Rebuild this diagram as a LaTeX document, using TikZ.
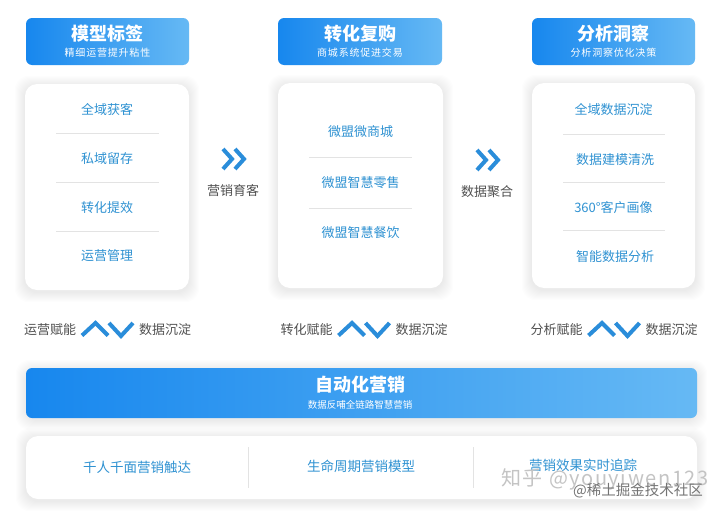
\documentclass[tikz,border=0pt]{standalone}
\usepackage{fontspec}
\setmainfont{Noto Sans CJK SC}
\usetikzlibrary{backgrounds}
\definecolor{itemblue}{HTML}{2F92D2}
\definecolor{hdrL}{HTML}{1787EE}
\definecolor{hdrR}{HTML}{66B9F4}
\definecolor{labgray}{HTML}{505050}
\definecolor{sepgray}{HTML}{E3E3E3}
\definecolor{chevblue}{HTML}{2A8DDA}
\definecolor{wmlight}{HTML}{C4C4C4}
\definecolor{wmdark}{HTML}{747474}
\tikzset{
  hdr/.style={rounded corners=6pt, left color=hdrL, right color=hdrR, draw=none, inner sep=0pt},
  card/.style={rounded corners=12pt, fill=white, draw=none, inner sep=0pt},
  htitle/.style={text=white, font=\fontsize{18}{18}\selectfont\bfseries, inner sep=0pt},
  hsub/.style={text=white, font=\fontsize{10}{10}\selectfont\addfontfeature{LetterSpace=8}, inner sep=0pt},
  item/.style={text=itemblue, font=\fontsize{13}{13}\selectfont, inner sep=0pt},
  lab/.style={text=labgray, font=\fontsize{13}{13}\selectfont, inner sep=0pt},
  sepline/.style={draw=sepgray, line width=1pt},
  chevline/.style={draw=chevblue, line width=4pt, line join=miter},
  avline/.style={draw=chevblue, line width=4pt, line join=miter},
  chevs/.pic={
    \draw[chevline] (-12,-10) -- (-3,0) -- (-12,10);
    \draw[chevline] (0,-10) -- (9,0) -- (0,10);
  },
  avicon/.pic={
    \draw[avline] (-25.5,6) -- (-12,-6.5) -- (0.5,6);
    \draw[avline] (1.5,-6.5) -- (13.5,6.5) -- (25.5,-6.5);
  },
}
\newcommand{\softshadow}[1]{%
  \foreach \i in {1,...,10}{%
    \fill[black, opacity=0.008, rounded corners=14pt]
      ([shift={(-\i,-\i+2)}]#1.north west) rectangle ([shift={(\i,\i+2)}]#1.south east);
  }%
}
\begin{document}
\begin{tikzpicture}[x=1pt,y=-1pt]
\useasboundingbox (0,0) rectangle (720,514);

% ---------- headers ----------
\node[hdr, minimum width=163pt, minimum height=47pt] (h1) at (107.5,41.5) {};
\node[hdr, minimum width=164pt, minimum height=47pt] (h2) at (360,41.5) {};
\node[hdr, minimum width=163pt, minimum height=47pt] (h3) at (613.5,41.5) {};
\node[htitle] (h1t) at (107.5,34) {模型标签};
\node[hsub]   (h1s) at (107.5,53) {精细运营提升粘性};
\node[htitle] (h2t) at (360,34) {转化复购};
\node[hsub]   (h2s) at (360,53) {商城系统促进交易};
\node[htitle] (h3t) at (613.5,34) {分析洞察};
\node[hsub]   (h3s) at (613.5,53) {分析洞察优化决策};

% ---------- cards ----------
\node[card, minimum width=164pt, minimum height=206pt] (c1) at (107,187) {};
\node[card, minimum width=165pt, minimum height=205pt] (c2) at (360.5,185.5) {};
\node[card, minimum width=163pt, minimum height=205pt] (c3) at (613.5,185.5) {};

\node[item] (c1a) at (107,110) {全域获客};
\node[item] (c1b) at (107,159) {私域留存};
\node[item] (c1c) at (107,208) {转化提效};
\node[item] (c1d) at (107,256) {运营管理};
\draw[sepline] (56,133) -- (159,133);
\draw[sepline] (56,182) -- (159,182);
\draw[sepline] (56,231) -- (159,231);

\node[item] (c2a) at (360.5,132) {微盟微商城};
\node[item] (c2b) at (360.5,183) {微盟智慧零售};
\node[item] (c2c) at (360.5,233) {微盟智慧餐饮};
\draw[sepline] (309,157) -- (412,157);
\draw[sepline] (309,208) -- (412,208);

\node[item] (c3a) at (613.5,110) {全域数据沉淀};
\node[item] (c3b) at (615,160) {数据建模清洗};
\node[item] (c3c) at (613.5,208) {360°客户画像};
\node[item] (c3d) at (615,257) {智能数据分析};
\draw[sepline] (563,134) -- (665,134);
\draw[sepline] (563,182) -- (665,182);
\draw[sepline] (563,230) -- (665,230);

% ---------- flow chevrons ----------
\pic at (235,159) {chevs};
\node[lab] (f1) at (233,191) {营销育客};
\pic at (489,160) {chevs};
\node[lab] (f2) at (487,192) {数据聚合};

% ---------- enabling row ----------
\node[lab] (r1a) at (50,330) {运营赋能};
\pic at (107.5,329.5) {avicon};
\node[lab] (r1b) at (165,330) {数据沉淀};
\node[lab] (r2a) at (306.5,330) {转化赋能};
\pic at (364,329.5) {avicon};
\node[lab] (r2b) at (421.5,330) {数据沉淀};
\node[lab] (r3a) at (556.5,330) {分析赋能};
\pic at (614,329.5) {avicon};
\node[lab] (r3b) at (671.5,330) {数据沉淀};

% ---------- automation bar ----------
\node[hdr, minimum width=671pt, minimum height=50pt] (bar) at (361.5,393) {};
\node[htitle] (bart) at (360,385) {自动化营销};
\node[hsub, font=\fontsize{9.5}{9.5}\selectfont] (bars) at (360,404.5) {数据反哺全链路智慧营销};

% ---------- bottom card ----------
\node[card, minimum width=671pt, minimum height=63pt] (low) at (361.5,467.5) {};
\node[item, font=\fontsize{13.5}{13.5}\selectfont] (l1) at (137,467) {千人千面营销触达};
\node[item, font=\fontsize{13.5}{13.5}\selectfont] (l2) at (361,466) {生命周期营销模型};
\node[item, font=\fontsize{13.5}{13.5}\selectfont] (l3) at (583,465) {营销效果实时追踪};
\draw[sepline] (248,447) -- (248,488);
\draw[sepline] (473,447) -- (473,488);

% ---------- watermark ----------
\node[text=wmlight, font=\fontsize{20}{20}\selectfont\addfontfeature{LetterSpace=8}, inner sep=0pt] (wm1) at (605,479) {知乎 @youyiwen123};
\node[text=wmdark, font=\fontsize{14.5}{14.5}\selectfont, inner sep=0pt] (wm2) at (638,491) {@稀土掘金技术社区};

% ---------- background and shadows ----------
\begin{pgfonlayer}{background}
  \fill[white] (0,0) rectangle (720,514);
  \softshadow{c1}
  \softshadow{c2}
  \softshadow{c3}
  \softshadow{low}
  \softshadow{bar}
\end{pgfonlayer}
\end{tikzpicture}
\end{document}
